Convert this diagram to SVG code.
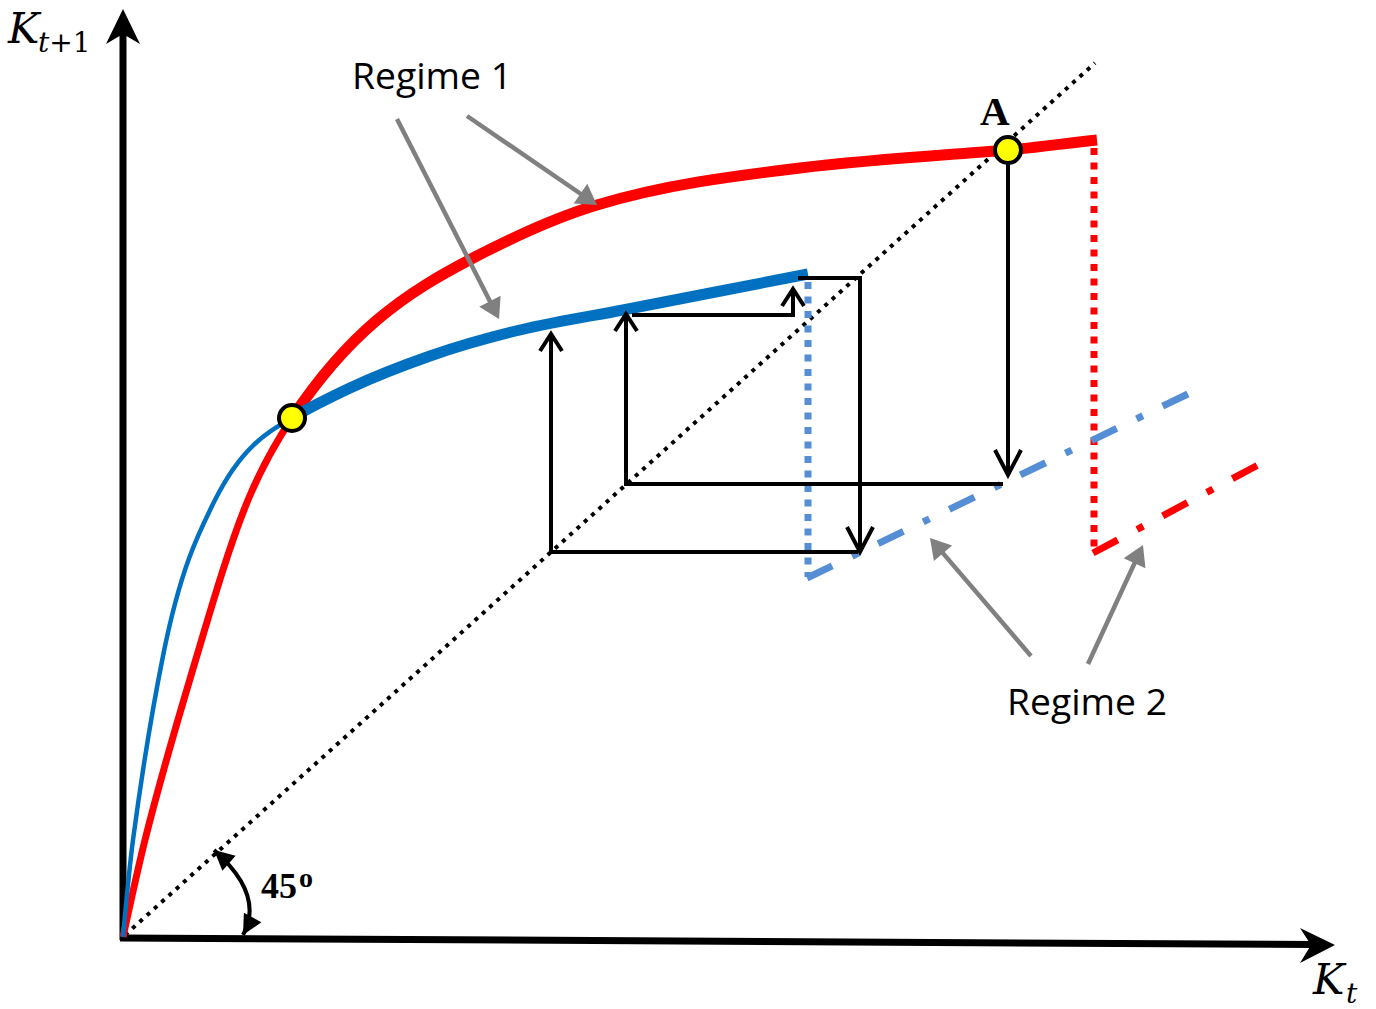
<svg xmlns="http://www.w3.org/2000/svg" width="1376" height="1009" viewBox="0 0 1376 1009">
<style>
.axis{stroke:#000;stroke-width:7;fill:none}
.blk{stroke:#000;stroke-width:4;fill:none}
.gray{stroke:#808080;stroke-width:4.5;fill:none}
.red{stroke:#FF0000;fill:none}
.blue{stroke:#0070C0;fill:none}
.lblue{stroke:#558ED5;fill:none}
.dotv{stroke-width:7;stroke-dasharray:7 7.5}
.dashdot{stroke-width:7;stroke-dasharray:28 22 7 22}
.lbl{font-family:"Open Sans","Noto Sans",sans-serif;font-size:36px;fill:#000}
.math{font-family:"DejaVu Serif",serif;fill:#000}
.bold{font-family:"Liberation Serif",serif;font-weight:bold;fill:#000}
.pt{fill:#FFFF00;stroke:#000;stroke-width:4}
</style>
<defs>
<marker id="vUp" markerUnits="userSpaceOnUse" orient="auto" refX="0" refY="0" markerWidth="30" markerHeight="30" viewBox="-20 -15 30 30" overflow="visible">
<path d="M-17,-11 L0,0 L-17,11" fill="none" stroke="#000" stroke-width="4"/>
</marker>
<marker id="vDown" markerUnits="userSpaceOnUse" orient="auto" refX="0" refY="0" markerWidth="36" markerHeight="36" viewBox="-28 -18 36 36" overflow="visible">
<path d="M-25,-13 L0,0 L-25,13" fill="none" stroke="#000" stroke-width="4"/>
</marker>
<marker id="gHead" markerUnits="userSpaceOnUse" orient="auto" refX="12" refY="0" markerWidth="30" markerHeight="30" viewBox="-2 -15 30 30" overflow="visible">
<path d="M0,-12 L20,0 L0,12 z" fill="#808080"/>
</marker>
<marker id="arcHead" markerUnits="userSpaceOnUse" orient="auto-start-reverse" refX="20" refY="0" markerWidth="30" markerHeight="30" viewBox="-2 -15 30 30" overflow="visible">
<path d="M0,-10 L20,0 L0,10 z" fill="#000"/>
</marker>
</defs>

<g id="axes">
<line class="axis" x1="123" y1="940" x2="123" y2="32"/>
<polygon points="123,9 140,44 123,34 106,44" fill="#000"/>
<line class="axis" x1="120" y1="938" x2="1314" y2="944.5"/>
<polygon points="1335,945 1300,928 1311,945 1300,963" fill="#000"/>
</g>

<g id="diagonal">
<line x1="125" y1="935" x2="1095" y2="63" stroke="#000" stroke-width="4" stroke-dasharray="4 5.8"/>
</g>

<g id="regime2-red">
<line class="red dotv" x1="1094" y1="148" x2="1094" y2="553"/>
<line class="red dashdot" x1="1093" y1="553" x2="1258" y2="465"/>
</g>

<g id="regime2-blue">
<line class="lblue dotv" x1="808" y1="282" x2="808" y2="577"/>
<line class="lblue dashdot" x1="807" y1="578" x2="1190" y2="393"/>
</g>

<g id="red-curve">
<path class="red" stroke-width="7" d="M123,937 C130.33,903.3 137.67,869.3 145,840 C160,780 175,729.25 190,679 C209.33,614.23 228.67,546.4 248,500 C262.67,464.8 277.33,440 292,418"/>
<path class="red" stroke-width="11" d="M292,418 C320.33,375.5 348.67,344.08 377,320 C409,292.8 441,274.64 473,258 C514.33,236.51 555.67,217.4 597,205 C664.67,184.7 732.33,176.12 800,168 C869.33,159.68 938.67,155.55 1008,150 C1037.67,147.63 1067.33,142.97 1097,140"/>
</g>

<g id="blue-curve">
<path class="blue" stroke-width="4.5" d="M123,937 C126.33,900.3 129.67,865 133,840 C143,765 153,706 163,656 C180.33,569.33 197.67,534.67 215,500 C240.67,448.67 266.33,432.12 292,418"/>
<path class="blue" stroke-width="11" d="M292,418 C311.33,406.4 330.67,397.09 350,388 C376.67,375.47 403.33,365.33 430,356 C460,345.5 490,337.2 520,330 C554.33,321.76 588.67,316.52 623,310 C684.67,298.28 746.33,285.72 808,274"/>
</g>

<g id="connectors">
<line class="blk" x1="551" y1="552" x2="551" y2="334" marker-end="url(#vUp)"/>
<line class="blk" x1="549" y1="552" x2="858" y2="552"/>
<line class="blk" x1="860" y1="276" x2="860" y2="552" marker-end="url(#vDown)"/>
<line class="blk" x1="798" y1="278" x2="862" y2="278"/>
<line class="blk" x1="626" y1="484" x2="626" y2="314" marker-end="url(#vUp)"/>
<line class="blk" x1="624" y1="484" x2="1003" y2="484"/>
<line class="blk" x1="632" y1="315" x2="795" y2="315"/>
<line class="blk" x1="793" y1="317" x2="793" y2="289" marker-end="url(#vUp)"/>
<line class="blk" x1="1008" y1="163" x2="1008" y2="475" marker-end="url(#vDown)"/>
<line class="gray" x1="397" y1="119" x2="495.4" y2="311.9" marker-end="url(#gHead)"/>
<line class="gray" x1="467" y1="116" x2="590.4" y2="200.5" marker-end="url(#gHead)"/>
<line class="gray" x1="1031" y1="656" x2="935.2" y2="544.1" marker-end="url(#gHead)"/>
<line class="gray" x1="1088" y1="664" x2="1139.6" y2="552.3" marker-end="url(#gHead)"/>
<path d="M214,850 Q265,895 243,935" fill="none" stroke="#000" stroke-width="4" marker-start="url(#arcHead)" marker-end="url(#arcHead)"/>
</g>

<g id="point-left">
<circle class="pt" cx="292" cy="418" r="13"/>
</g>
<g id="point-A">
<circle class="pt" cx="1008" cy="150" r="13"/>
<text class="bold" x="980" y="125" font-size="41">A</text>
</g>

<g id="labels">
<text class="lbl" x="352" y="89" textLength="160" lengthAdjust="spacingAndGlyphs">Regime 1</text>
<text class="lbl" x="1007" y="715" textLength="160" lengthAdjust="spacingAndGlyphs">Regime 2</text>
<text class="math" x="8" y="43" font-size="42" font-style="italic">K</text>
<text class="math" x="38" y="52" font-size="28"><tspan font-style="italic">t</tspan><tspan>+1</tspan></text>
<text class="math" x="1313" y="994" font-size="42" font-style="italic">K</text>
<text class="math" x="1346" y="1003" font-size="28" font-style="italic">t</text>
<text class="bold" x="261" y="898" font-size="36">45</text>
<text class="bold" x="299" y="887" font-size="28">o</text>
</g>
</svg>
